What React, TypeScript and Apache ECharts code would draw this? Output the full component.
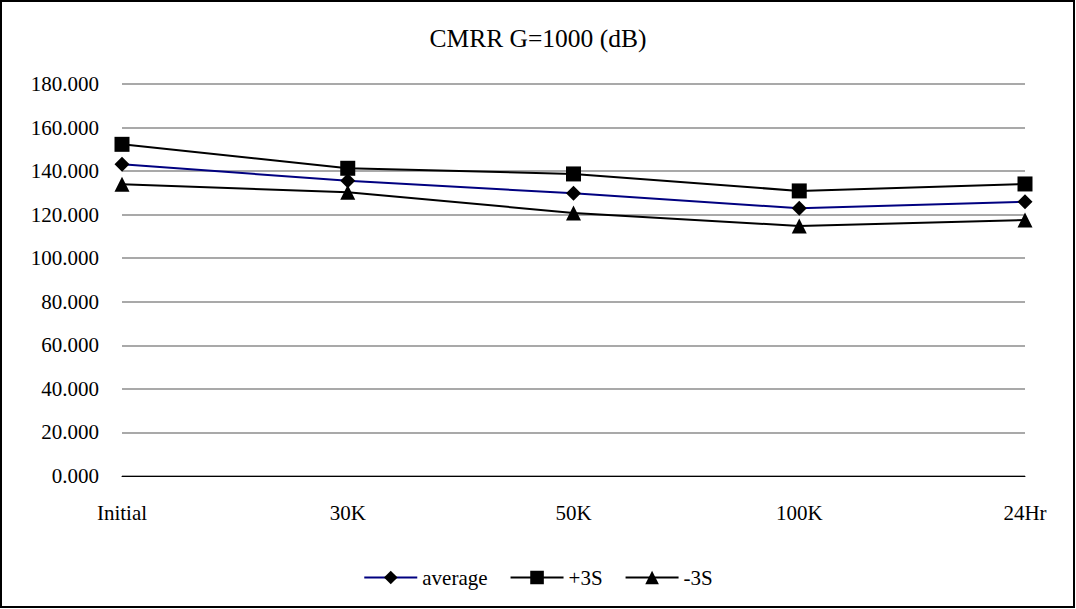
import React, { useEffect, useRef } from "react";
import * as echarts from "echarts";

const categories = ["Initial", "30K", "50K", "100K", "24Hr"];
const average = [143.1, 135.6, 129.8, 122.9, 125.9];
const plus3S = [152.3, 141.3, 138.7, 130.9, 134.1];
const minus3S = [134.0, 130.3, 120.8, 114.8, 117.5];

export default function App() {
  const ref = useRef<HTMLDivElement>(null);
  useEffect(() => {
    document.body.style.margin = "0";
    const chart = echarts.init(ref.current!, null, { renderer: "svg" });
    const font = "Liberation Serif";
    chart.setOption({
      animation: false,
      backgroundColor: "#fff",
      textStyle: { fontFamily: font },
      title: {
        text: "CMRR G=1000 (dB)",
        left: "center",
        top: 20,
        textStyle: { fontFamily: font, fontSize: 25.5, fontWeight: "normal", color: "#000" },
      },
      legend: {
        bottom: 16,
        left: "center",
        itemWidth: 53,
        itemHeight: 17,
        itemGap: 22,
        lineStyle: { width: 2 },
        textStyle: { fontFamily: font, fontSize: 21, color: "#000" },
        data: ["average", "+3S", "-3S"],
      },
      grid: { left: 122, right: 51, top: 84, bottom: 133 },
      xAxis: {
        type: "category",
        data: categories,
        boundaryGap: false,
        axisLine: { lineStyle: { color: "#000", width: 1 } },
        axisTick: { show: false },
        axisLabel: { fontFamily: font, fontSize: 21, color: "#000", margin: 26 },
      },
      yAxis: {
        type: "value",
        min: 0,
        max: 180,
        interval: 20,
        axisLine: { show: false },
        axisTick: { show: false },
        splitLine: { lineStyle: { color: "#8c8c8c", width: 1.5 } },
        axisLabel: {
          fontFamily: font,
          fontSize: 21,
          color: "#000",
          margin: 23,
          formatter: (v: number) => v.toFixed(3),
        },
      },
      series: [
        {
          name: "average",
          type: "line",
          data: average,
          symbol: "diamond",
          symbolSize: 15,
          lineStyle: { color: "#000080", width: 2 },
          itemStyle: { color: "#000" },
        },
        {
          name: "+3S",
          type: "line",
          data: plus3S,
          symbol: "rect",
          symbolSize: 15,
          lineStyle: { color: "#000", width: 2 },
          itemStyle: { color: "#000" },
        },
        {
          name: "-3S",
          type: "line",
          data: minus3S,
          symbol: "triangle",
          symbolSize: 15,
          lineStyle: { color: "#000", width: 2 },
          itemStyle: { color: "#000" },
        },
      ],
      graphic: [
        {
          type: "rect",
          shape: { x: 1, y: 1, width: 1073, height: 606 },
          style: { fill: "none", stroke: "#000", lineWidth: 2 },
          silent: true,
        },
      ],
    });
    return () => chart.dispose();
  }, []);
  return <div ref={ref} style={{ width: 1076, height: 609 }} />;
}
